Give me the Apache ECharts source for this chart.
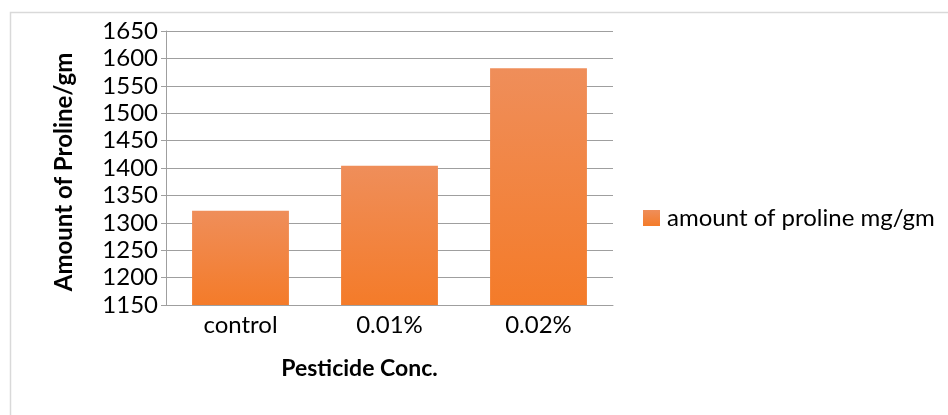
<!DOCTYPE html>
<html>
<head>
<meta charset="utf-8">
<script src="https://cdn.jsdelivr.net/npm/echarts@6/dist/echarts.min.js"></script>
<style>
  html, body { margin: 0; padding: 0; background: #ffffff; }
  #chart { width: 948px; height: 415px; }
</style>
</head>
<body>
<div id="chart"></div>
<script>
// Proline content under different pesticide concentrations
const categories = ['control', '0.01%', '0.02%'];
const prolineValues = [1322, 1404, 1582];
const seriesName = 'amount of proline mg/gm';
const yMin = 1150;
const yMax = 1650;
const yStep = 50;

const fontFamily = 'Lato, "Open Sans", sans-serif';
const gridColor = '#9f9f9f';

const barFill = new echarts.graphic.LinearGradient(0, 0, 0, 1, [
  { offset: 0, color: '#ef8e5a' },
  { offset: 1, color: '#f47b29' }
]);

const chart = echarts.init(document.getElementById('chart'), null, { renderer: 'canvas' });

chart.setOption({
  animation: false,
  backgroundColor: '#ffffff',
  textStyle: { fontFamily: fontFamily, color: '#000000' },
  graphic: [{
    type: 'rect',
    left: 8, top: 10,
    shape: { width: 960, height: 420 },
    style: { fill: 'none', stroke: '#d9d9d9', lineWidth: 1.5 },
    z: -1
  }],
  grid: { left: 166, right: 335, top: 31, bottom: 110, containLabel: false },
  legend: {
    data: [seriesName],
    left: 638,
    top: 201,
    itemWidth: 17,
    itemHeight: 16,
    icon: 'rect',
    itemGap: 0,
    textStyle: { fontFamily: fontFamily, fontSize: 24, color: '#000000', padding: [0, 0, 0, 2] }
  },
  xAxis: {
    type: 'category',
    data: categories,
    name: 'Pesticide Conc.',
    nameLocation: 'middle',
    nameGap: 52,
    nameTextStyle: { fontFamily: fontFamily, fontSize: 23, fontWeight: 'bold', color: '#000000', padding: [0, 60, 0, 0] },
    axisLine: { show: true, lineStyle: { color: gridColor, width: 1 } },
    axisTick: { show: false },
    axisLabel: { fontFamily: fontFamily, fontSize: 24, color: '#000000', margin: 8 }
  },
  yAxis: {
    type: 'value',
    min: yMin,
    max: yMax,
    interval: yStep,
    name: 'Amount of Proline/gm',
    nameLocation: 'middle',
    nameGap: 90,
    nameTextStyle: { fontFamily: fontFamily, fontSize: 24, fontWeight: 'bold', color: '#000000', padding: [0, 8, 0, 0] },
    axisLine: { show: true, lineStyle: { color: gridColor, width: 1 } },
    axisTick: { show: true, length: 5, lineStyle: { color: gridColor, width: 1 } },
    axisLabel: {
      fontFamily: fontFamily, fontSize: 24, color: '#000000', margin: 8,
      formatter: function (v) { return String(v); }
    },
    splitLine: { show: true, lineStyle: { color: gridColor, width: 1 } }
  },
  series: [{
    name: seriesName,
    type: 'bar',
    data: prolineValues,
    barWidth: '65%',
    itemStyle: { color: barFill }
  }]
});
</script>
</body>
</html>
